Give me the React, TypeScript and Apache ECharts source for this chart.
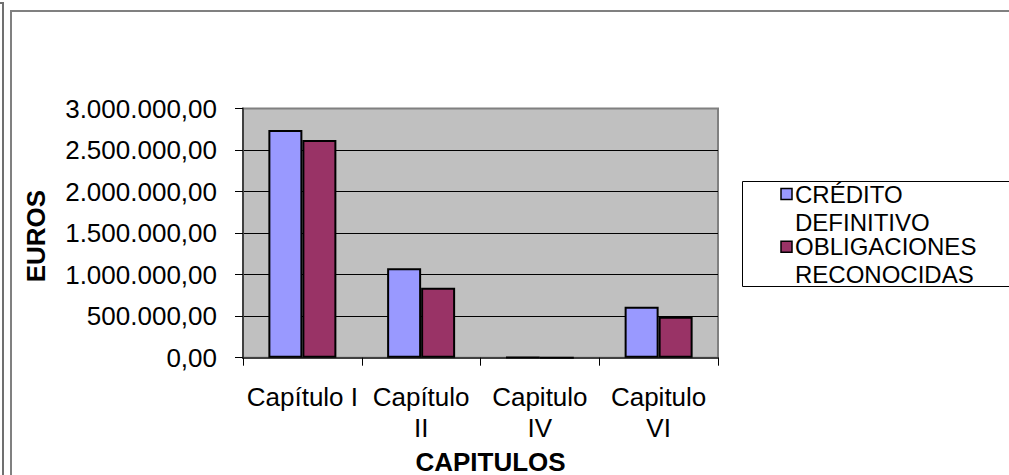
import React, { useEffect, useRef } from "react";
import * as echarts from "echarts";

const categories = ["Capítulo I", "Capítulo II", "Capitulo IV", "Capitulo VI"];
const tickLabels = ["Capítulo I", "Capítulo\nII", "Capitulo\nIV", "Capitulo\nVI"];
const seriesNames = ["CRÉDITO DEFINITIVO", "OBLIGACIONES RECONOCIDAS"];
const legendLabels = ["CRÉDITO\nDEFINITIVO", "OBLIGACIONES\nRECONOCIDAS"];
const creditoDefinitivo = [2741000, 1076000, 2500, 614000];
const obligacionesReconocidas = [2621000, 843000, 1500, 494000];
const seriesColors = ["#9999FF", "#993366"];
const yMin = 0;
const yMax = 3000000;
const yInterval = 500000;

const FONT = "'Liberation Sans', Arial, Helvetica, sans-serif";

function fmtEs(v: number): string {
  const [i, d] = v.toFixed(2).split(".");
  return i.replace(/\B(?=(\d{3})+(?!\d))/g, ".") + "," + d;
}

export default function App() {
  const ref = useRef<HTMLDivElement>(null);
  useEffect(() => {
    if (!ref.current) return;
    const chart = echarts.init(ref.current, undefined, { renderer: "svg" });
    const seriesData = [creditoDefinitivo, obligacionesReconocidas];
    chart.setOption({
      animation: false,
      backgroundColor: "#ffffff",
      grid: {
        left: 243,
        top: 108.5,
        right: 291,
        bottom: 117.3,
        containLabel: false,
        outerBoundsMode: "none",
        show: true,
        backgroundColor: "#C0C0C0",
        borderColor: "#808080",
        borderWidth: 2,
      },
      xAxis: {
        type: "category",
        data: categories,
        name: "CAPITULOS",
        nameLocation: "middle",
        nameGap: 81,
        nameTextStyle: {
          fontFamily: FONT,
          fontSize: 26,
          fontWeight: "bold",
          color: "#000",
          padding: [0, 0, 0, 20],
        },
        axisLine: { show: true, lineStyle: { color: "#404040", width: 2 } },
        axisTick: { show: true, length: 8, lineStyle: { color: "#000", width: 1 } },
        axisLabel: {
          margin: 24,
          fontFamily: FONT,
          fontSize: 26,
          lineHeight: 31,
          color: "#000",
          interval: 0,
          formatter: (_v: string, i: number) => tickLabels[i],
        },
      },
      yAxis: {
        type: "value",
        min: yMin,
        max: yMax,
        interval: yInterval,
        name: "EUROS",
        nameLocation: "middle",
        nameGap: 194,
        nameTextStyle: {
          fontFamily: FONT,
          fontSize: 26,
          fontWeight: "bold",
          color: "#000",
          padding: [0, 6, 0, 0],
        },
        axisLine: { show: true, lineStyle: { color: "#404040", width: 2 } },
        axisTick: { show: true, length: 8, lineStyle: { color: "#000", width: 1 } },
        axisLabel: {
          margin: 26,
          fontFamily: FONT,
          fontSize: 26,
          color: "#000",
          formatter: (v: number) => fmtEs(v),
        },
        splitLine: {
          show: true,
          showMaxLine: false,
          showMinLine: false,
          lineStyle: { color: "#000", width: 1 },
        },
      },
      series: seriesNames.map((name, k) => ({
        name,
        type: "bar",
        data: seriesData[k],
        barWidth: 34,
        barGap: "0%",
        itemStyle: { color: seriesColors[k], borderColor: "#000", borderWidth: 2 },
      })),
      graphic: [
        {
          type: "polyline",
          shape: { points: [[0, 3], [3, 3], [3, 475]] },
          style: { stroke: "#707070", lineWidth: 2, fill: null },
          silent: true,
        },
        {
          type: "polyline",
          shape: { points: [[11, 475], [11, 11], [1009, 11]] },
          style: { stroke: "#808080", lineWidth: 2, fill: null },
          silent: true,
        },
        {
          type: "rect",
          shape: { x: 742.5, y: 181.5, width: 267, height: 105 },
          style: { fill: "#ffffff", stroke: "#000", lineWidth: 1 },
          silent: true,
        },
        ...legendLabels.flatMap((label, k) => {
          const top = k === 0 ? 180 : 232.7;
          return [
            {
              type: "rect",
              shape: { x: 781, y: top + 8.5, width: 11, height: 11 },
              style: { fill: seriesColors[k], stroke: "#000", lineWidth: 1.5 },
              silent: true,
            },
            {
              type: "text",
              x: 795,
              y: top,
              style: {
                text: label,
                fill: "#000",
                fontFamily: FONT,
                fontSize: 24,
                lineHeight: 28,
                align: "left",
                verticalAlign: "top",
              },
              silent: true,
            },
          ];
        }),
      ],
    });
    return () => chart.dispose();
  }, []);
  return (
    <div
      ref={ref}
      style={{ position: "fixed", left: 0, top: 0, width: 1009, height: 475 }}
    />
  );
}
